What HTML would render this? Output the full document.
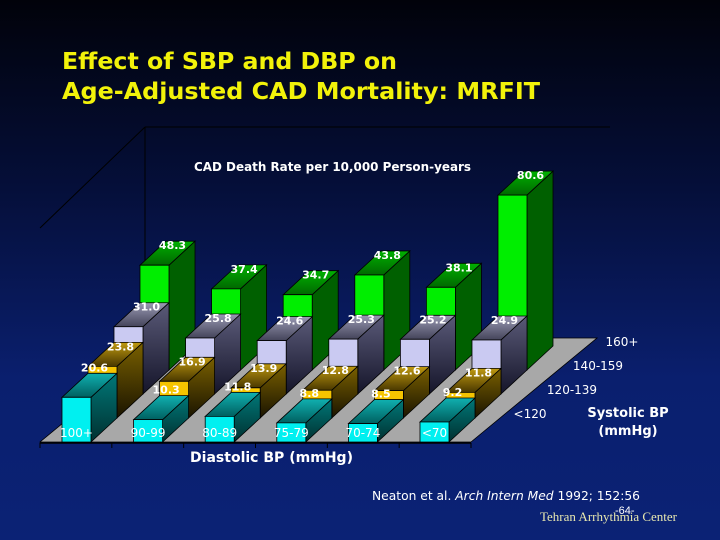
<!DOCTYPE html>
<html><head><meta charset="utf-8"><style>
html,body{margin:0;padding:0;width:720px;height:540px;overflow:hidden;}
body{background:linear-gradient(to bottom,#01020a 0%,#050f3a 35%,#0a1f6e 70%,#0b2275 100%);font-family:"Liberation Sans",sans-serif;}
svg{position:absolute;left:0;top:0;}
</style></head><body>
<svg id="chart" width="720" height="540">
<defs>
<linearGradient id="gTopGreen" x1="0" y1="0" x2="0" y2="1"><stop offset="0" stop-color="#00b000"/><stop offset="1" stop-color="#006800"/></linearGradient>
<linearGradient id="gTopLav" x1="0" y1="0" x2="0" y2="1"><stop offset="0" stop-color="#9a9ab4"/><stop offset="1" stop-color="#44445a"/></linearGradient>
<linearGradient id="gSideLav" x1="0" y1="0" x2="0" y2="1"><stop offset="0" stop-color="#5a5a78"/><stop offset="1" stop-color="#15152a"/></linearGradient>
<linearGradient id="gTopGold" x1="0" y1="0" x2="0" y2="1"><stop offset="0" stop-color="#c09a10"/><stop offset="1" stop-color="#4a3800"/></linearGradient>
<linearGradient id="gSideGold" x1="0" y1="0" x2="0" y2="1"><stop offset="0" stop-color="#7a6000"/><stop offset="1" stop-color="#1a1400"/></linearGradient>
<linearGradient id="gTopCyan" x1="0" y1="0" x2="0" y2="1"><stop offset="0" stop-color="#10b0b0"/><stop offset="1" stop-color="#006060"/></linearGradient>
<linearGradient id="gSideCyan" x1="0" y1="0" x2="0" y2="1"><stop offset="0" stop-color="#007878"/><stop offset="1" stop-color="#003030"/></linearGradient>
</defs>
<text x="62" y="69" fill="#f2f20a" font-size="23" font-weight="bold" font-family="'DejaVu Sans',sans-serif" textLength="335" lengthAdjust="spacingAndGlyphs">Effect of SBP and DBP on</text>
<text x="62" y="99" fill="#f2f20a" font-size="23" font-weight="bold" font-family="'DejaVu Sans',sans-serif" textLength="478" lengthAdjust="spacingAndGlyphs">Age-Adjusted CAD Mortality: MRFIT</text>
<line x1="145" y1="127" x2="610" y2="127" stroke="#000" stroke-width="1"/>
<line x1="145" y1="127" x2="145" y2="345" stroke="#000" stroke-width="1"/>
<line x1="40" y1="228" x2="145" y2="127" stroke="#000" stroke-width="1"/>
<text x="194" y="171" fill="#fff" font-size="12" font-weight="bold" font-family="'DejaVu Sans',sans-serif" textLength="277" lengthAdjust="spacingAndGlyphs">CAD Death Rate per 10,000 Person-years</text>
<g id="plot"></g>
<text x="190" y="462" fill="#fff" font-size="14" font-weight="bold" font-family="'DejaVu Sans',sans-serif" textLength="163" lengthAdjust="spacingAndGlyphs">Diastolic BP (mmHg)</text>
<text x="628" y="417" fill="#fff" font-size="13" font-weight="bold" font-family="'DejaVu Sans',sans-serif" text-anchor="middle">Systolic BP</text>
<text x="628" y="435" fill="#fff" font-size="13" font-weight="bold" font-family="'DejaVu Sans',sans-serif" text-anchor="middle">(mmHg)</text>
<text x="372" y="500" fill="#fff" font-size="12" font-family="'DejaVu Sans',sans-serif" textLength="268" lengthAdjust="spacingAndGlyphs">Neaton et al. <tspan font-style="italic">Arch Intern Med</tspan> 1992; 152:56</text>
<text x="615" y="514" fill="#fff" font-size="11">-64-</text>
<text x="540" y="521" fill="#e8e8b0" font-size="13" font-family="'Liberation Serif',serif">Tehran Arrhythmia Center</text>
</svg>
<script>
const categories = ["100+","90-99","80-89","75-79","70-74","<70"];
const seriesNames = ["<120","120-139","140-159","160+"];
const sbpLt120 = [20.6,10.3,11.8,8.8,8.5,9.2];
const sbp120to139 = [23.8,16.9,13.9,12.8,12.6,11.8];
const sbp140to159 = [31.0,25.8,24.6,25.3,25.2,24.9];
const sbp160plus = [48.3,37.4,34.7,43.8,38.1,80.6];
const series = [sbpLt120,sbp120to139,sbp140to159,sbp160plus];

const NS="http://www.w3.org/2000/svg";
const plot=document.getElementById('plot');
const X0=62, STEP=71.6, W=29, BASE=442, DX=26, DY=24, SCALE=2.17;
const styles=[
 {front:"#00f0f0",top:"url(#gTopCyan)",side:"url(#gSideCyan)"},
 {front:"#f5c400",top:"url(#gTopGold)",side:"url(#gSideGold)"},
 {front:"#cacaf2",top:"url(#gTopLav)",side:"url(#gSideLav)"},
 {front:"#00ee00",top:"url(#gTopGreen)",side:"#006000"}
];
function xPos(ci,row){return X0+ci*STEP+row*DX;}
function yBase(row){return BASE-row*DY;}
function yVal(v,row){return yBase(row)-v*SCALE;}
function poly(pts,fill,name){
 const p=document.createElementNS(NS,'polygon');
 p.setAttribute('points',pts.map(q=>q.join(',')).join(' '));
 p.setAttribute('fill',fill);p.setAttribute('stroke','#000');p.setAttribute('stroke-width','0.8');
 
 
 plot.appendChild(p);return p;
}
function txt(x,y,s,size,weight,anchor,name,fill){
 const t=document.createElementNS(NS,'text');
 t.setAttribute('x',x);t.setAttribute('y',y);t.setAttribute('font-size',size);
 t.setAttribute('font-family',"'DejaVu Sans',sans-serif");
 t.setAttribute('font-weight',weight);t.setAttribute('text-anchor',anchor);t.setAttribute('fill',fill||'#fff');
 t.textContent=s;
 
 
 plot.appendChild(t);return t;
}
const nR=series.length, nC=categories.length;
const fl=40, fr=471, FDX=126, FDY=104;
poly([[fl,BASE],[fr,BASE],[fr+FDX,BASE-FDY],[fl+FDX,BASE-FDY]],"#a8a8a8","floor");
const ax=document.createElementNS(NS,'line');
ax.setAttribute('x1',fl);ax.setAttribute('y1',BASE+1);ax.setAttribute('x2',fr);ax.setAttribute('y2',BASE+1);
ax.setAttribute('stroke','#000');ax.setAttribute('stroke-width','1.5');


plot.appendChild(ax);
for(let ci=0;ci<=nC;ci++){
 const tk=document.createElementNS(NS,'line');
 const tx=fl+ci*(fr-fl)/nC;
 tk.setAttribute('x1',tx);tk.setAttribute('x2',tx);tk.setAttribute('y1',BASE+1);tk.setAttribute('y2',BASE+6);
 tk.setAttribute('stroke','#000');
 
 
 plot.appendChild(tk);
}
for(let r=nR-1;r>=0;r--){
 for(let ci=0;ci<nC;ci++){
  const v=series[r][ci], st=styles[r];
  const x=xPos(ci,r), yb=yBase(r), yt=yVal(v,r);
  poly([[x+W,yb],[x+W+DX,yb-DY],[x+W+DX,yt-DY],[x+W,yt]],st.side,'bar-side-'+seriesNames[r]+'-'+categories[ci]);
  poly([[x,yt],[x+W,yt],[x+W+DX,yt-DY],[x+DX,yt-DY]],st.top,'bar-top-'+seriesNames[r]+'-'+categories[ci]);
  poly([[x,yb],[x+W,yb],[x+W,yt],[x,yt]],st.front,'bar-front-'+seriesNames[r]+'-'+categories[ci]);
 }
}
for(let r=nR-1;r>=0;r--){
 for(let ci=0;ci<nC;ci++){
  const v=series[r][ci];
  const x=xPos(ci,r), yt=yVal(v,r);
  txt(x+W/2+18,yt-16-(r===0?10:0),v.toFixed(1),11,'bold','middle','value-label');
 }
}
for(let ci=0;ci<nC;ci++){
 txt(xPos(ci,0)+W/2,BASE-5,categories[ci],12,'normal','middle','x-tick-label');
}
for(let r=0;r<nR;r++){
 const lx=[530,572,598,622][r];
 txt(lx,BASE-24-r*DY,seriesNames[r],12,'normal','middle','depth-tick-label');
}
</script>
</body></html>
